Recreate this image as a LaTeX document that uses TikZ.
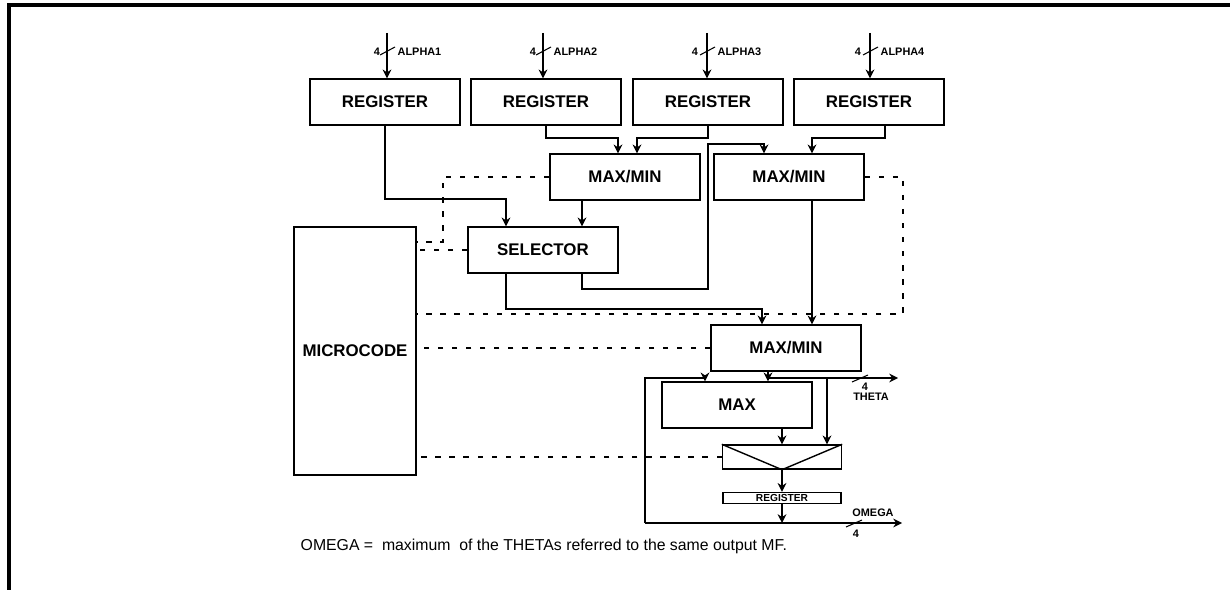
\documentclass[tikz,border=0pt]{standalone}
\usepackage{fontspec}
\setmainfont{Liberation Sans}
\usepackage{tikz}
\usetikzlibrary{arrows.meta, calc}

\begin{document}
\begin{tikzpicture}[x=0.2mm, y=-0.2mm, >={Stealth[length=5pt, width=5pt]}, line width=0.8pt,
    box/.style={draw, inner sep=0pt, minimum width=3cm, minimum height=9.2mm,
                font=\fontsize{9.6}{11}\selectfont\bfseries},
    ctrl/.style={line width=0.6pt, dash pattern=on 3pt off 5pt},
    tag/.style={inner sep=0pt, font=\fontsize{6.2}{7}\selectfont\bfseries}]
        \useasboundingbox (0,0) rectangle (1230,590);
        \draw[line width=1.9pt] (9,592) -- (9,5) -- (1232,5);

        % input registers
        \node[box] (reg1) at (385,102) {REGISTER};
        \node[box] (reg2) at (546,102) {REGISTER};
        \node[box] (reg3) at (708,102) {REGISTER};
        \node[box] (reg4) at (869,102) {REGISTER};
        \coordinate (in1) at (387,33);
        \coordinate (in2) at (543,33);
        \coordinate (in3) at (707,33);
        \coordinate (in4) at (870,33);
        \draw[->] (in1) -- (in1 |- reg1.north);
        \draw[->] (in2) -- (in2 |- reg2.north);
        \draw[->] (in3) -- (in3 |- reg3.north);
        \draw[->] (in4) -- (in4 |- reg4.north);
        \draw[line width=0.6pt] ($(in1)+(-7,22)$) -- ++(15,-8);
        \draw[line width=0.6pt] ($(in2)+(-7,22)$) -- ++(15,-8);
        \draw[line width=0.6pt] ($(in3)+(-7,22)$) -- ++(15,-8);
        \draw[line width=0.6pt] ($(in4)+(-7,22)$) -- ++(15,-8);
        \node[tag] (w1) at ($(in1)+(-10,19)$) {4};
        \node[tag] (w2) at ($(in2)+(-10,19)$) {4};
        \node[tag] (w3) at ($(in3)+(-12,19)$) {4};
        \node[tag] (w4) at ($(in4)+(-12,19)$) {4};
        \node[tag, anchor=west] (alpha1) at ($(in1)+(10,19)$) {ALPHA1};
        \node[tag, anchor=west] (alpha2) at ($(in2)+(10,19)$) {ALPHA2};
        \node[tag, anchor=west] (alpha3) at ($(in3)+(10,19)$) {ALPHA3};
        \node[tag, anchor=west] (alpha4) at ($(in4)+(10,19)$) {ALPHA4};

        % comparison stages
        \node[box] (mm1) at (625,177) {MAX/MIN};
        \node[box] (mm2) at (789,177) {MAX/MIN};
        \node[box] (sel) at (543,250) {SELECTOR};
        \node[box, minimum width=2.44cm, minimum height=4.96cm] (mcode) at (355,351) {MICROCODE};
        \node[box] (mm3) at (786,348) {MAX/MIN};
        \node[box] (maxb) at (737,405) {MAX};
        \node[draw, inner sep=0pt, minimum width=2.38cm, minimum height=4.8mm] (mux) at (782,457) {};
        \draw (mux.north west) -- (mux.south) -- (mux.north east);
        \node[draw, inner sep=0pt, minimum width=2.36cm, minimum height=2.2mm,
              font=\fontsize{5.8}{6}\selectfont\bfseries] (reg5) at (782,498) {REGISTER};

        \coordinate (s1) at (506,199);
        \coordinate (s2) at (582,213);
        \coordinate (b2) at (618,138);
        \coordinate (b3) at (637,138);
        \coordinate (b4) at (812,138);
        \coordinate (c1) at (708,289);
        \coordinate (c2) at (764,144);
        \coordinate (c3) at (762,309);
        \draw[->] (reg1.south) |- (s1) -- (s1 |- sel.north);
        \draw[->] (reg2.south) |- (b2) -- (b2 |- mm1.north);
        \draw[->] (reg3.south) |- (b3) -- (b3 |- mm1.north);
        \draw[->] ($(reg4.south)+(16,0)$) |- (b4) -- (b4 |- mm2.north);
        \draw[->] (mm1.south -| s2) -- (sel.north -| s2);
        \draw[->] (sel.south -| s2) |- (c1) |- (c2) -- (c2 |- mm2.north);
        \draw[->] (sel.south -| s1) |- (c3) -- (c3 |- mm3.north);
        \draw[->] (mm2.south -| b4) -- (mm3.north -| b4);

        % outputs
        \coordinate (th0) at (768,378);
        \coordinate (tb) at (827,378);
        \coordinate (thR) at (898,378);
        \coordinate (omL) at (645,523);
        \coordinate (omR) at (902,523);
        \coordinate (fb) at (705,378);
        \draw[->] (mm3.south -| th0) -- (th0 |- maxb.north);
        \draw[->] (th0) -- (thR);
        \draw[->] (tb) -- (tb |- mux.north);
        \draw[->] (maxb.south -| mux.north) -- (mux.north);
        \draw[->] (mux.south) -- (reg5.north);
        \draw[->] (reg5.south) -- (reg5.south |- omL);
        \draw[->] (omL) -- (omR);
        \draw[->] (omL) |- (fb) -- (fb |- maxb.north);
        \draw[line width=0.6pt] (852,382) -- (868,375);
        \draw[line width=0.6pt] (846,527) -- (862,520);
        \node[tag] (w5) at (865,387) {4};
        \node[tag] (theta) at (871,397) {THETA};
        \node[tag] (w6) at (856,534) {4};
        \node[tag] (omega) at (873,513) {OMEGA};

        % control lines from microcode
        \coordinate (d1) at (443,242);
        \coordinate (d2) at (903,314);
        \draw[ctrl] (mm1.west) -| (d1) -- (d1 -| mcode.east);
        \draw[ctrl] (sel.west) -- (sel.west -| mcode.east);
        \draw[ctrl] (mm2.east) -| (d2) -- (d2 -| mcode.east);
        \draw[ctrl] (mm3.west) -- (mm3.west -| mcode.east);
        \draw[ctrl] (mux.west) -- (mux.west -| mcode.east);

        \node[anchor=west, inner sep=0pt, font=\fontsize{9}{10}\selectfont] (note) at (300,546)
              {OMEGA =\ \ maximum\ \ of the THETAs referred to the same output MF.};
      \end{tikzpicture}
\end{document}
